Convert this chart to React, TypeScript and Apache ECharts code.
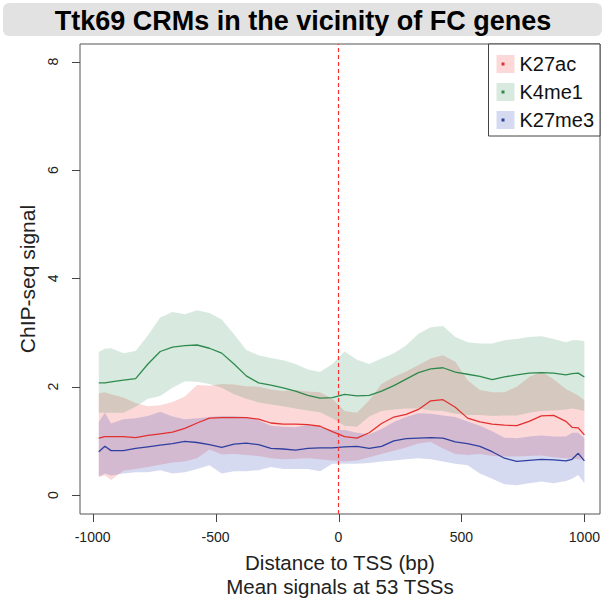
import React, { useEffect, useRef } from "react";
import * as echarts from "echarts";

const FONT = "'Liberation Sans', Arial, Helvetica, sans-serif";

// distance to TSS (bp)
const positions = [
  -975, -950, -925, -875, -825, -775, -725, -675, -625, -575, -525, -475, -425, -375, -325, -275, -225, -175, -125, -75, -25,
  25, 75, 125, 175, 225, 275, 325, 375, 425, 475, 525, 575, 625, 675, 725, 775, 825, 875, 925, 950, 975, 1000,
];

const k27acMean = [
  1.05, 1.08, 1.08, 1.08, 1.06, 1.10, 1.13, 1.16, 1.23, 1.33, 1.42, 1.43, 1.43, 1.43, 1.40, 1.33, 1.31, 1.31, 1.30, 1.27, 1.17,
  1.08, 1.05, 1.15, 1.32, 1.44, 1.49, 1.58, 1.74, 1.76, 1.62, 1.42, 1.35, 1.31, 1.29, 1.28, 1.36, 1.46, 1.47, 1.36, 1.25, 1.24, 1.11,
];
const k27acUpper = [
  1.88, 1.90, 1.86, 1.80, 1.70, 1.64, 1.66, 1.72, 1.82, 2.03, 2.02, 2.05, 2.04, 2.01, 2.00, 1.95, 1.92, 1.94, 1.91, 1.90, 1.78,
  1.55, 1.52, 1.75, 2.05, 2.18, 2.28, 2.40, 2.52, 2.58, 2.46, 2.12, 1.94, 1.90, 1.90, 2.00, 2.18, 2.28, 2.14, 1.96, 1.90, 1.84, 1.75,
];
const k27acLower = [
  0.34, 0.36, 0.28, 0.45, 0.48, 0.52, 0.56, 0.60, 0.62, 0.68, 0.84, 0.75, 0.76, 0.74, 0.72, 0.68, 0.66, 0.67, 0.68, 0.66, 0.64,
  0.62, 0.64, 0.70, 0.76, 0.82, 0.88, 0.95, 0.98, 0.86, 0.76, 0.74, 0.76, 0.72, 0.71, 0.71, 0.72, 0.73, 0.70, 0.68, 0.67, 0.66, 0.65,
];

const k4me1Mean = [
  2.07, 2.07, 2.09, 2.12, 2.15, 2.42, 2.65, 2.73, 2.76, 2.77, 2.71, 2.62, 2.42, 2.20, 2.07, 2.03, 1.98, 1.92, 1.84, 1.79, 1.80,
  1.86, 1.83, 1.84, 1.92, 2.02, 2.14, 2.26, 2.33, 2.35, 2.27, 2.23, 2.19, 2.13, 2.18, 2.22, 2.25, 2.26, 2.25, 2.22, 2.24, 2.25, 2.18,
];
const k4me1Upper = [
  2.64, 2.70, 2.71, 2.62, 2.66, 2.95, 3.28, 3.38, 3.34, 3.41, 3.36, 3.24, 2.97, 2.68, 2.58, 2.53, 2.49, 2.42, 2.32, 2.27, 2.42,
  2.65, 2.50, 2.42, 2.52, 2.62, 2.76, 2.98, 3.10, 3.12, 2.92, 2.82, 2.80, 2.80, 2.86, 2.88, 2.92, 2.93, 2.88, 2.82, 2.86, 2.86, 2.84,
];
const k4me1Lower = [
  1.52, 1.52, 1.52, 1.52, 1.63, 1.78, 1.83, 1.98, 2.10, 2.09, 2.05, 1.98, 1.86, 1.78, 1.71, 1.67, 1.64, 1.60, 1.56, 1.53, 1.42,
  1.28, 1.26, 1.45, 1.55, 1.58, 1.60, 1.60, 1.56, 1.55, 1.50, 1.48, 1.48, 1.46, 1.47, 1.47, 1.52, 1.55, 1.56, 1.58, 1.60, 1.58, 1.55,
];

const k27me3Mean = [
  0.80, 0.90, 0.82, 0.82, 0.86, 0.89, 0.92, 0.95, 0.99, 0.97, 0.93, 0.88, 0.94, 0.96, 0.93, 0.86, 0.85, 0.83, 0.86, 0.87, 0.87,
  0.89, 0.90, 0.86, 0.90, 1.00, 1.04, 1.05, 1.06, 1.05, 0.98, 0.95, 0.90, 0.80, 0.68, 0.62, 0.64, 0.66, 0.65, 0.63, 0.66, 0.77, 0.63,
];
const k27me3Upper = [
  1.35, 1.52, 1.32, 1.40, 1.42, 1.46, 1.54, 1.45, 1.40, 1.42, 1.44, 1.46, 1.46, 1.44, 1.38, 1.28, 1.26, 1.25, 1.30, 1.25, 1.20,
  1.20, 1.15, 1.12, 1.22, 1.35, 1.44, 1.51, 1.50, 1.47, 1.44, 1.36, 1.28, 1.18, 1.06, 1.05, 1.08, 1.10, 1.08, 1.08, 1.15, 1.15, 1.05,
];
const k27me3Lower = [
  0.34, 0.40, 0.36, 0.40, 0.42, 0.42, 0.46, 0.40, 0.42, 0.48, 0.55, 0.40, 0.44, 0.44, 0.46, 0.52, 0.48, 0.48, 0.48, 0.44, 0.58,
  0.58, 0.58, 0.59, 0.62, 0.64, 0.66, 0.68, 0.66, 0.62, 0.58, 0.55, 0.40, 0.30, 0.20, 0.18, 0.22, 0.25, 0.22, 0.26, 0.30, 0.37, 0.22,
];

const xTicks = [-1000, -500, 0, 500, 1000];
const yTicks = [0, 2, 4, 6, 8];

const marks = [
  { name: "K27ac", mean: k27acMean, upper: k27acUpper, lower: k27acLower, line: "#e3302f", band: "rgba(240,40,40,0.18)" },
  { name: "K4me1", mean: k4me1Mean, upper: k4me1Upper, lower: k4me1Lower, line: "#2e8a4c", band: "rgba(46,139,87,0.19)" },
  { name: "K27me3", mean: k27me3Mean, upper: k27me3Upper, lower: k27me3Lower, line: "#2f3f9f", band: "rgba(50,70,185,0.2)" },
];

const X_MIN = -1051.3;
const X_MAX = 1063.5;
const Y_MIN = -0.35;
const Y_MAX = 8.327;

export default function App() {
  const ref = useRef<HTMLDivElement>(null);
  useEffect(() => {
    if (!ref.current) return;
    const chart = echarts.init(ref.current, null, { renderer: "svg" });

    const bandSeries: any[] = marks.map((m) => ({
      type: "custom",
      name: m.name,
      data: [[0, 1]],
      itemStyle: { color: m.band },
      silent: true,
      clip: true,
      z: 1,
      renderItem: (_params: any, api: any) => {
        const pts: number[][] = [];
        for (let i = 0; i < positions.length; i++) pts.push(api.coord([positions[i], m.upper[i]]));
        for (let i = positions.length - 1; i >= 0; i--) pts.push(api.coord([positions[i], m.lower[i]]));
        return { type: "polygon", shape: { points: pts }, style: { fill: m.band, stroke: null } };
      },
    }));

    const lineSeries: any[] = marks.map((m, k) => ({
      type: "line",
      name: m.name + " mean",
      data: positions.map((x, i) => [x, m.mean[i]]),
      symbol: "none",
      lineStyle: { color: m.line, width: 1.3 },
      color: m.line,
      z: 3,
      silent: true,
      markLine:
        k === 0
          ? {
              symbol: "none",
              silent: true,
              z: 5,
              label: { show: false },
              lineStyle: { type: [4, 3], color: "#ff3030", width: 1.2, opacity: 1 },
              emphasis: { disabled: true },
              data: [{ xAxis: 0 }],
            }
          : undefined,
    }));

    const baseGraphics: any[] = [
      {
        type: "rect",
        left: 3,
        top: 3,
        shape: { width: 599, height: 33, r: 6 },
        style: { fill: "#e2e2e2" },
        z: 0,
      },
      {
        type: "text",
        x: 303,
        y: 21,
        style: {
          text: "Ttk69 CRMs in the vicinity of FC genes",
          fill: "#000",
          fontSize: 27,
          fontWeight: "bold",
          fontFamily: FONT,
          align: "center",
          verticalAlign: "middle",
        },
        z: 1,
      },
      ...marks.map((m, i) => ({
        type: "rect",
        x: 501.5,
        y: 62.5 + i * 28,
        shape: { width: 3, height: 3 },
        style: { fill: m.line },
        z: 100,
      })),
    ];

    const option: any = {
      animation: false,
      backgroundColor: "#ffffff",
      textStyle: { fontFamily: FONT },
      grid: {
        left: 80,
        right: 5,
        top: 44,
        bottom: 93,
        show: true,
        borderColor: "#555",
        borderWidth: 1,
        backgroundColor: "transparent",
      },
      xAxis: {
        type: "value",
        min: X_MIN,
        max: X_MAX,
        axisLine: { show: false, onZero: false },
        splitLine: { show: false },
        axisTick: { show: false },
        axisLabel: {
          customValues: xTicks,
          fontSize: 14,
          color: "#222",
          margin: 16,
          fontFamily: FONT,
          formatter: (v: number) => String(v),
        },
        name: "Distance to TSS (bp)\nMean signals at 53 TSSs",
        nameLocation: "middle",
        nameGap: 36,
        nameTextStyle: { fontSize: 20.5, lineHeight: 24, color: "#222", fontFamily: FONT },
      },
      yAxis: {
        type: "value",
        min: Y_MIN,
        max: Y_MAX,
        axisLine: { show: false, onZero: false },
        splitLine: { show: false },
        axisTick: { show: false },
        axisLabel: {
          customValues: yTicks,
          fontSize: 14,
          color: "#222",
          margin: 20,
          rotate: 90,
          fontFamily: FONT,
          formatter: (v: number) => String(v),
        },
        name: "ChIP-seq signal",
        nameLocation: "middle",
        nameGap: 41,
        nameTextStyle: { fontSize: 21, color: "#222", fontFamily: FONT },
      },
      legend: {
        show: true,
        orient: "vertical",
        right: 5,
        top: 44,
        data: marks.map((m) => ({ name: m.name, itemStyle: { color: m.band } })),
        icon: "rect",
        itemWidth: 18,
        itemHeight: 18,
        itemGap: 8,
        itemTextGap: 8,
        padding: [10, 6, 6, 8],
        backgroundColor: "#ffffff",
        borderColor: "#444",
        borderWidth: 1,
        borderRadius: 0,
        selectedMode: false,
        textStyle: { fontSize: 20, color: "#111", fontFamily: FONT, lineHeight: 20 },
      },
      graphic: baseGraphics,
      series: [...bandSeries, ...lineSeries],
    };

    chart.setOption(option);

    // axis ticks (outside the box), positioned through the axes' own scales
    const bottomPx = chart.convertToPixel({ yAxisIndex: 0 }, Y_MIN) as number;
    const leftPx = chart.convertToPixel({ xAxisIndex: 0 }, X_MIN) as number;
    const tickGraphics: any[] = [];
    xTicks.forEach((v) => {
      const px = Math.round(chart.convertToPixel({ xAxisIndex: 0 }, v) as number) + 0.5;
      tickGraphics.push({
        type: "line",
        shape: { x1: px, y1: bottomPx, x2: px, y2: bottomPx + 8 },
        style: { stroke: "#444", lineWidth: 1 },
        silent: true,
        z: 50,
      });
    });
    yTicks.forEach((v) => {
      const py = Math.round(chart.convertToPixel({ yAxisIndex: 0 }, v) as number) + 0.5;
      tickGraphics.push({
        type: "line",
        shape: { x1: leftPx - 8, y1: py, x2: leftPx, y2: py },
        style: { stroke: "#444", lineWidth: 1 },
        silent: true,
        z: 50,
      });
    });
    chart.setOption({ ...option, graphic: [...baseGraphics, ...tickGraphics] }, true);

    return () => chart.dispose();
  }, []);
  return <div ref={ref} style={{ position: "fixed", left: 0, top: 0, width: 605, height: 607 }} />;
}
